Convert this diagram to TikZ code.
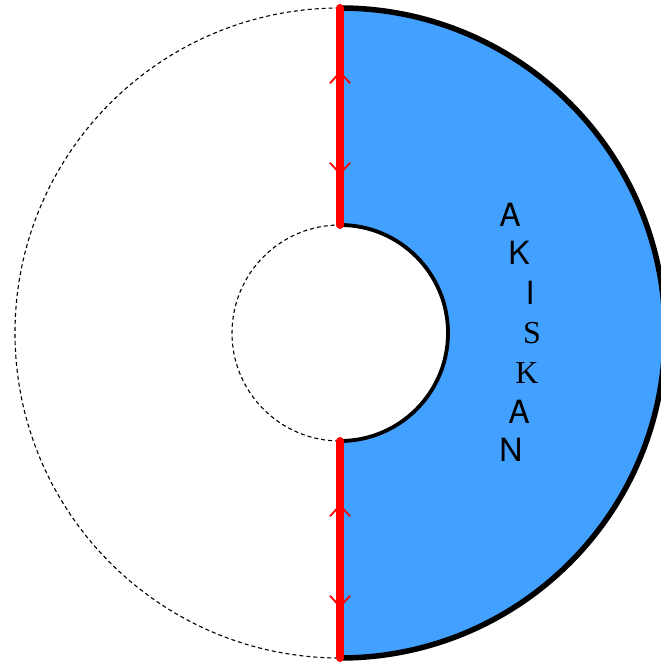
\documentclass[tikz,border=0pt]{standalone}
\usepackage{fontspec}
\setsansfont{TeX Gyre Heros}
\setmainfont{Liberation Serif}
\usepackage{tikz}
\usetikzlibrary{positioning,calc,arrows.meta,decorations.markings}

\definecolor{sheetblue}{RGB}{66,160,255}

\begin{document}
\begin{tikzpicture}[
  x=1pt, y=1pt,
  every node/.style={inner sep=0pt},
  sansletter/.style={font=\fontsize{32}{36}\selectfont\sffamily},
  serifletter/.style={font=\fontsize{32}{36}\selectfont\rmfamily},
  ghost/.style={draw, dashed, dash pattern=on 4pt off 3pt, line width=1.1pt},
  rim/.style={draw, line width=5.5pt},
  hole/.style={draw, line width=3.8pt},
  glued/.style={draw=red, line width=8pt, line cap=round,
    postaction={decorate, decoration={markings,
      mark=at position 0.29 with {\arrowreversed{Straight Barb[length=11pt,width=20pt,line width=1.8pt]}},
      mark=at position 0.77 with {\arrow{Straight Barb[length=11pt,width=20pt,line width=1.8pt]}}}}}
]
\useasboundingbox (0,0) rectangle (661,664);

\coordinate (c) at (340,331);
\coordinate (outtop) at (340,656);
\coordinate (outbot) at (340,6);
\coordinate (intop) at (340,439);
\coordinate (inbot) at (340,223);

% right half of the annulus
\fill[sheetblue] (outtop) arc (90:-90:325) -- (inbot) arc (-90:90:108) -- cycle;

% the circles
\draw[ghost] (c) circle (325);
\draw[ghost] (c) circle (108);
\draw[rim] (outtop) arc (90:-90:325);
\draw[hole] (intop) arc (90:-90:108);

% the cut
\draw[glued] (outtop) -- (intop);
\draw[glued] (inbot) -- (outbot);

% letters
\node[sansletter]  (a1) at (510,449) {A};
\node[sansletter]  (k1) at (519,411) {K};
\node[sansletter]  (i1) at (530,371) {I};
\node[serifletter] (s1) at (532,331) {S};
\node[serifletter] (k2) at (527,291) {K};
\node[sansletter]  (a2) at (519,252) {A};
\node[sansletter]  (n1) at (511,214) {N};

\end{tikzpicture}
\end{document}
